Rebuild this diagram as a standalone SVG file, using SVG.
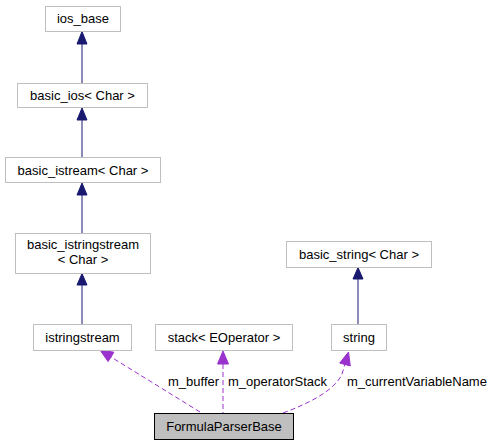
<svg xmlns="http://www.w3.org/2000/svg" width="492" height="445" viewBox="0 0 492 445">
<style>
.n rect{fill:#fff;stroke:#bfbfbf;stroke-width:1}
.n text,.lbl{font-family:"Liberation Sans",Arial,sans-serif;font-size:13px;fill:#000}
.n text{text-anchor:middle}
.inh{stroke:#191970;stroke-width:1;fill:none}
.inhh{fill:#191970;stroke:#191970}
.use{stroke:#9a32cd;stroke-width:1;fill:none;stroke-dasharray:5,3}
.useh{fill:#9a32cd;stroke:#9a32cd}
</style>
<rect width="492" height="445" fill="#fff"/>
<g id="connectors">
  <line class="inh" x1="82" y1="44" x2="82" y2="83"/>
  <polygon class="inhh" points="82,31.5 77,44 87,44"/>
  <line class="inh" x1="82" y1="120" x2="82" y2="157"/>
  <polygon class="inhh" points="82,108 77,120 87,120"/>
  <line class="inh" x1="82" y1="195" x2="82" y2="233"/>
  <polygon class="inhh" points="82,183 77,195 87,195"/>
  <line class="inh" x1="82" y1="285" x2="82" y2="324"/>
  <polygon class="inhh" points="82,273.5 77,285 87,285"/>
  <line class="inh" x1="358" y1="279" x2="358" y2="324"/>
  <polygon class="inhh" points="358,267.5 353,279 363,279"/>
  <path class="use" d="M200,412 L111,357"/>
  <polygon class="useh" points="100,350 113.9,352.2 108.1,361.6"/>
  <line class="use" x1="223" y1="364" x2="223" y2="413"/>
  <polygon class="useh" points="223,351 217.5,364 228.5,364"/>
  <path class="use" d="M283,413 C310,403 335,390 342,374 L345,364"/>
  <polygon class="useh" points="348.5,352 350.3,365.9 339.7,363.1"/>
  <text class="lbl" x="168" y="386">m_buffer</text>
  <text class="lbl" x="228" y="386">m_operatorStack</text>
  <text class="lbl" x="347" y="386">m_currentVariableName</text>
</g>
<g id="ios_base" class="n"><rect x="45.5" y="6.5" width="75" height="25"/><text x="83" y="23">ios_base</text></g>
<g id="basic_ios" class="n"><rect x="17.5" y="83.5" width="130" height="24"/><text x="82.5" y="100">basic_ios&lt; Char &gt;</text></g>
<g id="basic_istream" class="n"><rect x="5.5" y="157.5" width="155" height="25"/><text x="83" y="175">basic_istream&lt; Char &gt;</text></g>
<g id="basic_istringstream" class="n"><rect x="15.5" y="233.5" width="135" height="40"/><text x="83" y="249">basic_istringstream</text><text x="83" y="264">&lt; Char &gt;</text></g>
<g id="istringstream" class="n"><rect x="33.5" y="324.5" width="98" height="26"/><text x="82.5" y="342">istringstream</text></g>
<g id="stack" class="n"><rect x="155.5" y="324.5" width="137" height="26"/><text x="224" y="342">stack&lt; EOperator &gt;</text></g>
<g id="string" class="n"><rect x="331.5" y="324.5" width="55" height="26"/><text x="359" y="342">string</text></g>
<g id="basic_string" class="n"><rect x="286.5" y="241.5" width="145" height="26"/><text x="359" y="259">basic_string&lt; Char &gt;</text></g>
<g id="FormulaParserBase" class="n"><rect x="154.5" y="413.5" width="139" height="26" style="fill:#bfbfbf;stroke:#000"/><text x="224" y="431">FormulaParserBase</text></g>
</svg>
